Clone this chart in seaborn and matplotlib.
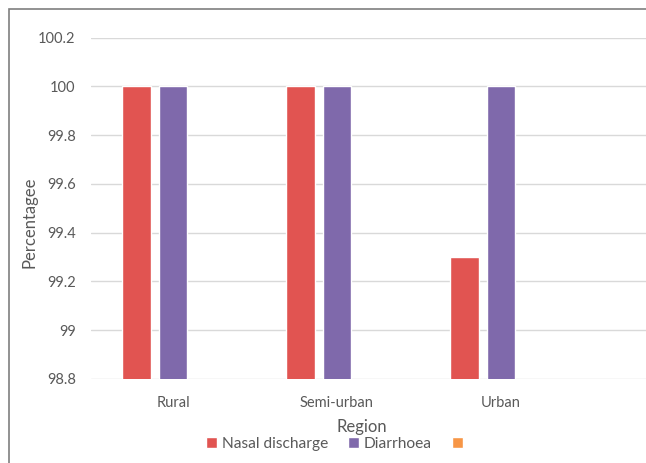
import matplotlib
matplotlib.use("Agg")
import matplotlib.pyplot as plt
from matplotlib.patches import Rectangle
import numpy as np
import pandas as pd
import seaborn as sns

# Data
regions = ["Rural", "Semi-urban", "Urban"]
series = ["Nasal discharge", "Diarrhoea", " "]
nasal_discharge = [100.0, 100.0, 99.3]
diarrhoea = [100.0, 100.0, 100.0]
third_series = [np.nan, np.nan, np.nan]
y_ticks = [98.8, 99.0, 99.2, 99.4, 99.6, 99.8, 100.0, 100.2]
y_tick_labels = ["98.8", "99", "99.2", "99.4", "99.6", "99.8", "100", "100.2"]
colors = ["#E15451", "#7F69AB", "#F79646"]

df = pd.DataFrame({
    "Region": regions * 3,
    "Series": [series[0]] * 3 + [series[1]] * 3 + [series[2]] * 3,
    "Value": nasal_discharge + diarrhoea + third_series,
})

sns.set_theme(style="white")
plt.rcParams["font.family"] = ["Lato", "DejaVu Sans"]
text_color = "#595959"

W, H = 646, 463
fig = plt.figure(figsize=(W / 100, H / 100), dpi=100)
left, right = 91, 646
bottom, top = 379, 37.7
ax = fig.add_axes([left / W, 1 - bottom / H, (right - left) / W, (bottom - top) / H])

sns.barplot(data=df, x="Region", y="Value", hue="Series", order=regions,
            hue_order=series, palette=colors, width=0.668, gap=0.22,
            errorbar=None, ax=ax, legend=True, saturation=1)

ax.set_ylim(98.8, 100.2)
ax.set_xlim(-0.5, -0.5 + (right - left) / 164)
ax.set_yticks(y_ticks)
ax.set_yticklabels(y_tick_labels)
ax.yaxis.grid(True, color="#D9D9D9", linewidth=1.0)
ax.set_axisbelow(True)
for s in ax.spines.values():
    s.set_visible(False)
ax.tick_params(axis="both", length=0, labelsize=10.5, colors=text_color)
ax.tick_params(axis="y", pad=11)
ax.tick_params(axis="x", pad=12)

ax.set_xlabel("Region", fontsize=12, color=text_color)
ax.xaxis.set_label_coords((362 - left) / (right - left), -(419 - bottom) / (bottom - top))
ax.set_ylabel("Percentagee", fontsize=12, color=text_color)
ax.yaxis.set_label_coords(-(91 - 38) / (right - left), (bottom - 222) / (bottom - top))

sns.move_legend(ax, "center", bbox_to_anchor=(339 / W, 1 - 444 / H),
                bbox_transform=fig.transFigure, ncol=3, frameon=False,
                title=None, fontsize=11.2, handlelength=0.7, handleheight=0.7,
                handletextpad=0.3, columnspacing=1.3, borderpad=0)
for t in ax.get_legend().get_texts():
    t.set_color(text_color)

# Chart border
fig.patches.append(Rectangle((9 / W, -0.1), 1.2, 1 - 9 / H + 0.1,
                             transform=fig.transFigure, fill=False,
                             edgecolor="#7F7F7F", linewidth=1.2, clip_on=False))

fig.savefig("out.png", dpi=100)
